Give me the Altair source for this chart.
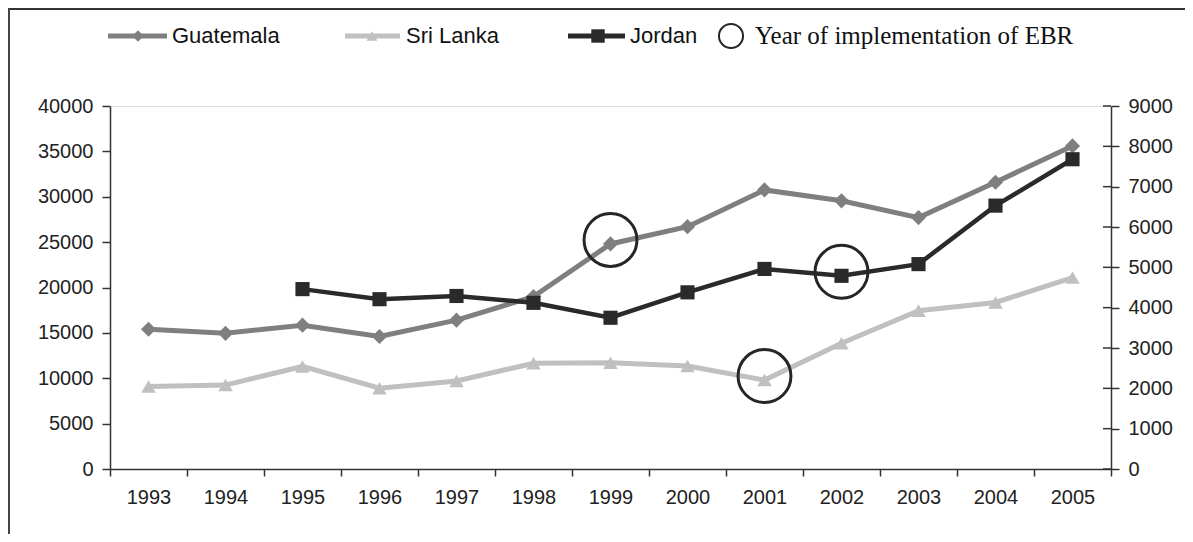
import altair as alt
import pandas as pd

years = list(range(1993, 2006))
guatemala = [15400, 14950, 15850, 14600, 16400, 19000, 24800, 26700, 30750, 29550, 27700, 31600, 35600]
sri_lanka = [9100, 9250, 11300, 8900, 9700, 11650, 11700, 11350, 9800, 13850, 17450, 18350, 21100]
jordan_years = list(range(1995, 2006))
jordan = [4460, 4210, 4290, 4120, 3750, 4380, 4960, 4790, 5080, 6530, 7680]
left_ticks = list(range(0, 40001, 5000))
right_ticks = list(range(0, 9001, 1000))
ebr_left = [("Guatemala", 1999), ("Sri Lanka", 2001)]
ebr_right = [("Jordan", 2002)]

W, H = 1001, 363
FONT = "Liberation Sans"
SERIF = "Liberation Serif"
C_GUA = "#7f7f7f"
C_SRI = "#c0c0c0"
C_JOR = "#2a2a2a"
C_AX = "#333333"

left_df = pd.DataFrame({"year": years, "Guatemala": guatemala, "Sri Lanka": sri_lanka})
jor_df = pd.DataFrame({"year": jordan_years, "Jordan": jordan})
lookup_left = {"Guatemala": dict(zip(years, guatemala)), "Sri Lanka": dict(zip(years, sri_lanka))}
lookup_right = {"Jordan": dict(zip(jordan_years, jordan))}
ebr_l_df = pd.DataFrame({"year": [y for _, y in ebr_left],
                         "v": [lookup_left[s][y] for s, y in ebr_left]})
ebr_r_df = pd.DataFrame({"year": [y for _, y in ebr_right],
                         "v": [lookup_right[s][y] for s, y in ebr_right]})
rt_df = pd.DataFrame({"v": right_ticks})

x_axis = alt.Axis(title=None, tickBand="extent", labelAngle=0, tickSize=7,
                  labelPadding=11, labelFont=FONT, labelFontSize=20, labelColor="#222",
                  domainColor=C_AX, tickColor=C_AX, domainWidth=1.5, tickWidth=1.5, grid=False)
x_enc = alt.X("year:O", scale=alt.Scale(type="band", domain=years, paddingInner=0, paddingOuter=0),
              axis=x_axis, bandPosition=0.5)

left_axis = alt.Axis(orient="left", title=None, values=left_ticks, format="d", tickSize=8,
                     labelPadding=9, labelFont=FONT, labelFontSize=20, labelColor="#222",
                     domainColor=C_AX, tickColor=C_AX, domainWidth=1.5, tickWidth=1.5, grid=False)
right_axis = alt.Axis(orient="right", title=None, values=right_ticks, format="d", tickSize=8,
                      labelPadding=9, labelFont=FONT, labelFontSize=20, labelColor="#222",
                      domainColor=C_AX, tickColor=C_AX, domainWidth=1.5, tickWidth=1.5, grid=False)
left_scale = alt.Scale(domain=[0, 40000], nice=False)
right_scale = alt.Scale(domain=[0, 9000], nice=False)


def yl(field):
    return alt.Y(f"{field}:Q", scale=left_scale, axis=left_axis)


def yr(field):
    return alt.Y(f"{field}:Q", scale=right_scale, axis=right_axis)


base_l = alt.Chart(left_df)
sri_line = base_l.mark_line(color=C_SRI, strokeWidth=5).encode(x=x_enc, y=yl("Sri Lanka"))
sri_pts = base_l.mark_point(shape="triangle-up", filled=True, opacity=1, color=C_SRI, size=210).encode(
    x=x_enc, y=yl("Sri Lanka"))
gua_line = base_l.mark_line(color=C_GUA, strokeWidth=5).encode(x=x_enc, y=yl("Guatemala"))
gua_pts = base_l.mark_point(shape="diamond", filled=True, opacity=1, color=C_GUA, size=230).encode(
    x=x_enc, y=yl("Guatemala"))
circ_l = alt.Chart(ebr_l_df).mark_point(shape="circle", filled=False, opacity=1, color="#262626",
                                        size=2800, strokeWidth=3, yOffset=-4).encode(x=x_enc, y=yl("v"))

one = alt.Data(values=[{}])
frame_top = alt.Chart(one).mark_rule(color="#333", strokeWidth=2).encode(
    x=alt.value(-101), x2=alt.value(1090), y=alt.value(-97))
frame_left = alt.Chart(one).mark_rule(color="#444", strokeWidth=2).encode(
    x=alt.value(-101), y=alt.value(-98), y2=alt.value(440))

LY = -70


def leg_line(x0, x1, color, w):
    return alt.Chart(one).mark_rule(color=color, strokeWidth=w).encode(
        x=alt.value(x0), x2=alt.value(x1), y=alt.value(LY))


def leg_pt(x, shape, color, size, filled=True, sw=1):
    return alt.Chart(one).mark_point(shape=shape, filled=filled, opacity=1, color=color,
                                     size=size, strokeWidth=sw).encode(x=alt.value(x), y=alt.value(LY))


def leg_txt(x, text, font, size):
    return alt.Chart(one).mark_text(align="left", baseline="middle", font=font, fontSize=size,
                                    color="#111").encode(x=alt.value(x), y=alt.value(LY), text=alt.value(text))


legend = [
    leg_line(-2, 57, C_GUA, 5), leg_pt(28, "diamond", C_GUA, 130), leg_txt(62, "Guatemala", FONT, 22),
    leg_line(235, 290, C_SRI, 5), leg_pt(262, "triangle-up", C_SRI, 120), leg_txt(296, "Sri Lanka", FONT, 22),
    leg_line(458, 515, C_JOR, 5), leg_pt(488, "square", C_JOR, 180), leg_txt(520, "Jordan", FONT, 22),
    leg_pt(621, "circle", "#262626", 580, filled=False, sw=2), leg_txt(645, "Year of implementation of EBR", SERIF, 25),
]

left_group = alt.layer(sri_line, sri_pts, gua_line, gua_pts, circ_l, frame_top, frame_left, *legend)

base_r = alt.Chart(jor_df)
jor_line = base_r.mark_line(color=C_JOR, strokeWidth=4.5).encode(x=x_enc, y=yr("Jordan"))
jor_pts = base_r.mark_point(shape="square", filled=True, opacity=1, color=C_JOR, size=200).encode(
    x=x_enc, y=yr("Jordan"))
circ_r = alt.Chart(ebr_r_df).mark_point(shape="circle", filled=False, opacity=1, color="#262626",
                                        size=2800, strokeWidth=3, yOffset=-4).encode(x=x_enc, y=yr("v"))
inner_ticks = alt.Chart(rt_df).mark_rule(color=C_AX, strokeWidth=1.5).encode(
    y=yr("v"), x=alt.value(W - 8), x2=alt.value(W))

right_group = alt.layer(jor_line, jor_pts, circ_r, inner_ticks)

chart = alt.layer(left_group, right_group).resolve_scale(y="independent").properties(
    width=W, height=H,
    autosize=alt.AutoSizeParams(type="none"),
    padding={"left": 102, "top": 98, "right": 74, "bottom": 65},
).configure_view(stroke=None).configure(background="white")

chart.save("out.html", embed_options={"renderer": "svg", "actions": False})
